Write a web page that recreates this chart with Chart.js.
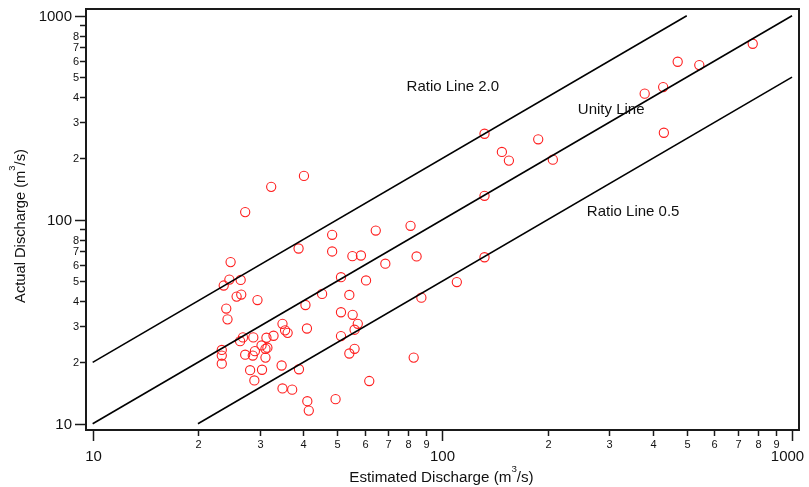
<!DOCTYPE html>
<html>
<head>
<meta charset="utf-8">
<script src="https://cdn.jsdelivr.net/npm/chart.js@4"></script>
<style>
  body { margin: 0; background: #fff; }
  #wrap { width: 809px; height: 487px; }
</style>
</head>
<body>
<div id="wrap"><canvas id="graphiqueDebit"></canvas></div>
<script>
// measured points (estimated vs actual discharge, m3/s)
var estimated = [40.2, 32.4, 27.3, 48.4, 64.5, 38.8, 48.4, 55.3, 58.5, 68.7,
  24.8, 24.6, 26.5, 23.7, 51.3, 60.5, 25.8, 26.6, 29.6, 45.3,
  54.2, 24.1, 40.6, 51.3, 55.4, 24.3, 34.9, 57.3, 35.5, 36.1,
  41.0, 56.1, 26.9, 26.4, 28.8, 31.4, 32.9, 51.3, 23.4, 23.4,
  23.4, 30.4, 31.2, 31.6, 29.1, 27.3, 28.7, 31.2, 56.1, 54.2,
  34.7, 28.2, 30.5, 38.9, 29.0, 61.8, 34.9, 37.2, 41.1, 49.5,
  41.5, 81.1, 84.4, 110, 87.1, 82.8, 132, 148, 155, 188,
  207, 132, 132, 772, 471, 543, 379, 428, 430];
var actual = [164, 145, 109, 84.4, 88.5, 72.3, 69.9, 66.3, 66.8, 60.9,
  62.0, 50.9, 50.7, 47.6, 52.3, 50.4, 42.0, 43.0, 40.4, 43.3,
  42.8, 36.7, 38.2, 35.2, 34.2, 32.5, 30.9, 30.9, 28.7, 27.9,
  29.3, 28.9, 26.5, 25.4, 26.5, 26.4, 27.0, 26.9, 23.0, 21.6,
  19.7, 24.2, 23.3, 23.6, 22.7, 21.8, 21.6, 21.1, 23.3, 22.1,
  19.3, 18.3, 18.4, 18.5, 16.3, 16.2, 14.9, 14.7, 12.9, 13.2,
  11.6, 93.4, 66.1, 49.5, 41.5, 21.1, 264, 215, 195, 248,
  197, 131, 65.5, 729, 595, 573, 415, 447, 267];

// reference lines
var ratio2X = [10, 500], ratio2Y = [20, 1000];
var unityX = [10, 1000], unityY = [10, 1000];
var ratio05X = [20, 1000], ratio05Y = [10, 500];

// line labels [text, x, y]
var lineLabels = [
  ['Ratio Line 2.0', 79, 447],
  ['Unity Line', 244, 345],
  ['Ratio Line 0.5', 259, 109]
];

// axis ticks
var xTickValues = [10, 20, 30, 40, 50, 60, 70, 80, 90, 100, 200, 300, 400, 500, 600, 700, 800, 900, 1000];
var xTickLabels = ['10', '2', '3', '4', '5', '6', '7', '8', '9', '100', '2', '3', '4', '5', '6', '7', '8', '9', '1000'];
var yTickValues = xTickValues;
var yTickLabels = ['10', '2', '3', '4', '5', '6', '7', '8', '', '100', '2', '3', '4', '5', '6', '7', '8', '', '1000'];
var majors = [10, 100, 1000];

function toPoints(xs, ys) {
  return xs.map(function (x, i) { return { x: x, y: ys[i] }; });
}

var police = '"Liberation Sans", Arial, sans-serif';

function titreExposant(ctx, avant, expo, apres, taille) {
  ctx.font = taille + 'px ' + police;
  var w1 = ctx.measureText(avant).width;
  var w3 = ctx.measureText(apres).width;
  ctx.font = (taille * 0.64) + 'px ' + police;
  var w2 = ctx.measureText(expo).width;
  var total = w1 + w2 + w3;
  ctx.textBaseline = 'alphabetic';
  ctx.textAlign = 'left';
  ctx.font = taille + 'px ' + police;
  ctx.fillText(avant, -total / 2, 0);
  ctx.fillText(apres, -total / 2 + w1 + w2, 0);
  ctx.font = (taille * 0.64) + 'px ' + police;
  ctx.fillText(expo, -total / 2 + w1, -taille * 0.68);
}

var axesPlugin = {
  id: 'axesPerso',
  afterDraw: function (chart) {
    var ctx = chart.ctx, a = chart.chartArea;
    var sx = chart.scales.x, sy = chart.scales.y;
    ctx.save();
    ctx.strokeStyle = '#1a1a1a';
    ctx.fillStyle = '#111';
    ctx.lineWidth = 2;
    ctx.strokeRect(a.left, a.top, a.right - a.left, a.bottom - a.top);

    ctx.lineWidth = 1.5;
    // x ticks
    xTickValues.forEach(function (v, i) {
      var px = Math.round(sx.getPixelForValue(v)) + 0.5;
      var maj = majors.indexOf(v) >= 0;
      ctx.beginPath();
      ctx.moveTo(px, a.bottom + 1);
      ctx.lineTo(px, a.bottom + (maj ? 11 : 6));
      ctx.stroke();
      ctx.textAlign = 'center';
      ctx.textBaseline = 'middle';
      if (maj) {
        ctx.font = '15px ' + police;
        ctx.fillText(xTickLabels[i], v === 1000 ? px - 5 : px, a.bottom + 27);
      } else {
        ctx.font = '11px ' + police;
        ctx.fillText(xTickLabels[i], px, a.bottom + 15);
      }
    });
    // y ticks
    yTickValues.forEach(function (v, i) {
      var py = Math.round(sy.getPixelForValue(v)) + 0.5;
      var maj = majors.indexOf(v) >= 0;
      ctx.beginPath();
      ctx.moveTo(a.left - 1, py);
      ctx.lineTo(a.left - (maj ? 11 : 6), py);
      ctx.stroke();
      ctx.textAlign = 'right';
      ctx.textBaseline = 'middle';
      if (maj) {
        ctx.font = '15px ' + police;
        ctx.fillText(yTickLabels[i], a.left - 14, py);
      } else {
        ctx.font = '11px ' + police;
        ctx.fillText(yTickLabels[i], a.left - 7, py);
      }
    });

    // line labels
    ctx.font = '15px ' + police;
    ctx.textAlign = 'left';
    ctx.textBaseline = 'middle';
    lineLabels.forEach(function (l) {
      ctx.fillText(l[0], sx.getPixelForValue(l[1]), sy.getPixelForValue(l[2]));
    });

    // axis titles
    ctx.save();
    ctx.translate((a.left + a.right) / 2 - 1, 482);
    titreExposant(ctx, 'Estimated Discharge (m', '3', '/s)', 15.2);
    ctx.restore();
    ctx.save();
    ctx.translate(25, 226);
    ctx.rotate(-Math.PI / 2);
    titreExposant(ctx, 'Actual Discharge (m', '3', '/s)', 14.7);
    ctx.restore();
    ctx.restore();
  }
};

var ligne = function (label, xs, ys) {
  return {
    type: 'line',
    label: label,
    data: toPoints(xs, ys),
    borderColor: '#000',
    borderWidth: 1.6,
    pointRadius: 0,
    fill: false,
    showLine: true
  };
};

var ctxDebit = document.getElementById('graphiqueDebit').getContext('2d');
var graphiqueDebit = new Chart(ctxDebit, {
  type: 'scatter',
  data: {
    datasets: [
      ligne('Ratio Line 2.0', ratio2X, ratio2Y),
      ligne('Unity Line', unityX, unityY),
      ligne('Ratio Line 0.5', ratio05X, ratio05Y),
      {
        label: 'Discharge',
        data: toPoints(estimated, actual),
        borderColor: 'rgb(255, 30, 30)',
        backgroundColor: 'rgba(0,0,0,0)',
        borderWidth: 1.1,
        pointRadius: 4.6,
        pointHoverRadius: 4.6
      }
    ]
  },
  options: {
    responsive: true,
    maintainAspectRatio: false,
    animation: false,
    layout: { padding: { left: 86, right: 10, top: 9, bottom: 57 } },
    plugins: { legend: { display: false }, tooltip: { enabled: false } },
    scales: {
      x: { type: 'logarithmic', display: false, min: 9.57, max: 1047 },
      y: { type: 'logarithmic', display: false, min: 9.32, max: 1079 }
    }
  },
  plugins: [axesPlugin]
});
</script>
</body>
</html>
